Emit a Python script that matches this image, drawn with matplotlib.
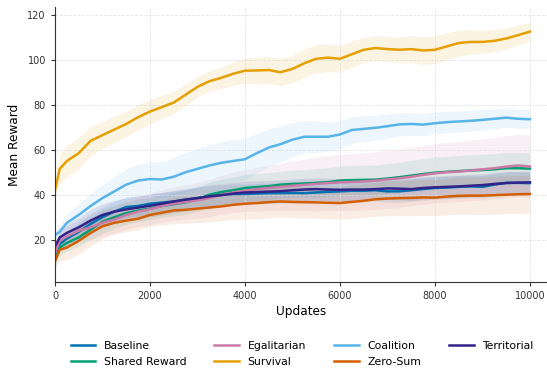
import matplotlib
matplotlib.use("Agg")
import matplotlib.pyplot as plt
import numpy as np

updates = [0, 100,
           250, 500, 750, 1000, 1250, 1500, 1750, 2000,
           2250, 2500, 2750, 3000, 3250, 3500, 3750, 4000,
           4250, 4500, 4750, 5000, 5250, 5500, 5750, 6000,
           6250, 6500, 6750, 7000, 7250, 7500, 7750, 8000,
           8250, 8500, 8750, 9000, 9250, 9500, 9750, 10000]

baseline = [13, 18,
            20.5, 23.5, 27, 30, 32.5, 34.5, 35, 36,
            36.5, 37, 37.8, 38.5, 39.3, 40, 40.3, 40.3,
            40.5, 40.7, 40.7, 40.8, 40.7, 41, 41.3, 41.5,
            41.8, 41.8, 42, 41.5, 41.5, 42, 42.5, 43,
            43.2, 43.5, 43.7, 43.5, 44.5, 45.3, 45.3, 45.2]
baseline_std = [2, 3,
                3.5, 4, 4.5, 4.5, 4.5, 4.5, 4.5, 4.5,
                4.5, 4.5, 4.5, 4.5, 4.5, 4.5, 4.5, 4.5,
                4.5, 4.5, 4.5, 4.5, 4.5, 4.5, 4.5, 4.5,
                4.6, 4.7, 4.8, 4.9, 5, 5, 5, 5,
                5, 5, 5, 5, 5, 5, 5, 5]

shared = [10.5, 16.5,
          18.5, 21, 24.5, 28, 30, 31.8, 33, 33.8,
          35, 35.8, 36.6, 38, 40, 41.2, 42, 43,
          43.4, 43.8, 44.5, 44.8, 45, 45.3, 45.6, 46.3,
          46.5, 46.6, 46.7, 47.2, 47.8, 48.5, 49.2, 49.8,
          50.2, 50.5, 50.8, 51, 51.3, 51.8, 51.8, 51.6]
shared_std = [2, 3,
              3.5, 4, 4.5, 5, 5, 5, 5, 5,
              5, 5.2, 5.4, 5.5, 5.6, 5.7, 5.8, 5.9,
              6, 6, 6, 6.1, 6.2, 6.3, 6.4, 6.5,
              6.5, 6.6, 6.6, 6.7, 6.7, 6.8, 6.8, 6.9,
              6.9, 7, 7, 7, 7, 7, 7, 7]

egalitarian = [14, 19.5,
               21.5, 24, 25.5, 27.5, 29, 31, 32.5, 33.5,
               35, 36, 36.8, 37.5, 38.5, 40, 41, 41.8,
               42.5, 43, 43.5, 44, 44.4, 44.8, 45.2, 45.5,
               45.7, 45.9, 46.3, 46.8, 47.3, 48, 48.8, 49.5,
               50, 50.3, 50.8, 51.3, 51.8, 52.5, 53, 52.6]
egalitarian_std = [3, 4,
                   4.5, 5, 5.5, 6, 6.2, 6.4, 6.6, 7,
                   7.2, 7.4, 7.6, 8, 8.3, 8.6, 9, 9.3,
                   9.7, 10, 10.5, 11, 11.5, 12, 12.3, 12.5,
                   12.6, 12.7, 12.8, 12.9, 13, 13, 13.1, 13.2,
                   13.3, 13.4, 13.5, 13.6, 13.7, 13.8, 13.9, 14]

survival = [42, 51.5,
            55, 58.5, 64, 66.5, 69, 71.5, 74.5, 77,
            79, 81, 84.5, 88, 90.5, 92, 93.8, 95.2,
            95.3, 95.5, 94.5, 96, 98.5, 100.5, 101, 100.5,
            102.5, 104.5, 105.3, 104.8, 104.5, 104.8, 104.2, 104.5,
            106, 107.5, 108, 108, 108.5, 109.5, 111, 112.6]
survival_std = [3, 6.5,
                7, 7, 6.5, 6, 6, 5.8, 5.6, 5.4,
                5.2, 5, 4.8, 4.6, 4.5, 4.8, 5.2, 5.6,
                6, 6, 6, 6.2, 6.3, 6.3, 6.2, 6,
                5.8, 5.6, 5.5, 5.6, 5.8, 6, 6.2, 6.2,
                6, 5.8, 5.5, 5.2, 5, 4.8, 4.5, 4.2]

coalition = [22, 23.5,
             27.5, 31, 35, 38.5, 41.5, 44.5, 46.3, 47,
             46.8, 48, 50, 51.5, 53, 54.2, 55, 55.8,
             58.5, 61, 62.5, 64.5, 65.8, 65.8, 65.8, 66.8,
             68.8, 69.3, 69.8, 70.5, 71.3, 71.5, 71.2, 71.8,
             72.3, 72.6, 72.9, 73.3, 73.8, 74.3, 73.8, 73.6]
coalition_std = [2, 3,
                 4, 5, 5.5, 6, 6.5, 7, 7.2, 7.5,
                 8, 8.5, 8.8, 9, 9.2, 9.5, 9.5, 9.2,
                 8.8, 8.4, 8, 7.6, 7.2, 7, 6.6, 6.2,
                 6, 5.8, 5.6, 5.4, 5.2, 5, 5, 4.9,
                 4.8, 4.7, 4.6, 4.5, 4.4, 4.3, 4.2, 4.2]

zero_sum = [10.5, 15.5,
            16.5, 19.5, 23, 26, 27.5, 28.5, 29.3, 31,
            32, 33, 33.3, 33.8, 34.3, 34.8, 35.5, 36,
            36.3, 36.7, 37, 36.8, 36.7, 36.6, 36.4, 36.3,
            36.8, 37.3, 38, 38.3, 38.5, 38.6, 38.8, 38.7,
            39.2, 39.5, 39.6, 39.6, 39.8, 40, 40.2, 40.3]
zero_sum_std = [3, 5,
                5.5, 6, 6, 5.5, 5, 5, 5, 5,
                5.5, 6, 6, 6.2, 6.4, 6.5, 6.6, 6.8,
                7, 7, 7, 7, 7, 7, 7, 7.2,
                7.4, 7.5, 7.6, 7.7, 7.8, 7.9, 8, 8,
                8, 8.2, 8.3, 8.4, 8.4, 8.4, 8.4, 8.4]

territorial = [17, 21,
               23, 25.5, 28.5, 31, 32.5, 33.5, 34.3, 35.1,
               36, 37, 37.8, 38.5, 39.3, 39.8, 40.5, 41,
               41.2, 41.4, 41.6, 42, 42.3, 42.5, 42.3, 42.2,
               42.3, 42.3, 42.5, 42.8, 42.7, 42.5, 43, 43.3,
               43.5, 43.7, 44, 44.3, 44.8, 45.2, 45.4, 45.5]
territorial_std = [2, 3,
                   4, 4.5, 5, 5, 5, 5, 5, 5,
                   5, 5, 5, 5, 5, 5, 5, 5,
                   5, 5, 5, 5, 5, 5, 5, 5,
                   5, 5, 5, 5, 5, 5, 5, 5,
                   5, 5, 5, 5, 5, 5, 5, 5]

runs = [
    ("Baseline", baseline, baseline_std, "#0072B2"),
    ("Shared Reward", shared, shared_std, "#009E73"),
    ("Egalitarian", egalitarian, egalitarian_std, "#CC79A7"),
    ("Survival", survival, survival_std, "#E69F00"),
    ("Coalition", coalition, coalition_std, "#56B4E9"),
    ("Zero-Sum", zero_sum, zero_sum_std, "#D55E00"),
    ("Territorial", territorial, territorial_std, "#332288"),
]

fig = plt.figure(figsize=(5.47, 3.71), dpi=100)
ax = fig.add_axes([0.1005, 0.2407, 0.8995, 0.7396])

x = np.array(updates)
for name, mean, std, color in runs:
    mean = np.array(mean)
    std = np.array(std)
    ax.fill_between(x, mean - std, mean + std, color=color, alpha=0.11, linewidth=0)
    ax.plot(x, mean, color=color, linewidth=1.8, label=name)

ax.set_xlim(0, 10360)
ax.set_ylim(1.3, 123.4)
ax.set_xticks([0, 2000, 4000, 6000, 8000, 10000])
ax.set_yticks([20, 40, 60, 80, 100, 120])
ax.tick_params(labelsize=7, colors="#333333", length=3, width=0.8)
ax.set_xlabel("Updates", fontsize=8.7, labelpad=3)
ax.set_ylabel("Mean Reward", fontsize=8.7, labelpad=5)
ax.grid(True, linestyle="--", linewidth=0.6, color="#dddddd", alpha=0.8)
ax.spines["top"].set_visible(False)
ax.spines["right"].set_visible(False)
for side in ("left", "bottom"):
    ax.spines[side].set_color("#333333")
    ax.spines[side].set_linewidth(0.8)

fig.legend(loc="center", bbox_to_anchor=(0.552, 0.046), ncol=4, frameon=False,
           fontsize=7.8, handlelength=2.3, handletextpad=0.75, columnspacing=2.6,
           labelspacing=0.55)

fig.savefig("out.png", dpi=100)
